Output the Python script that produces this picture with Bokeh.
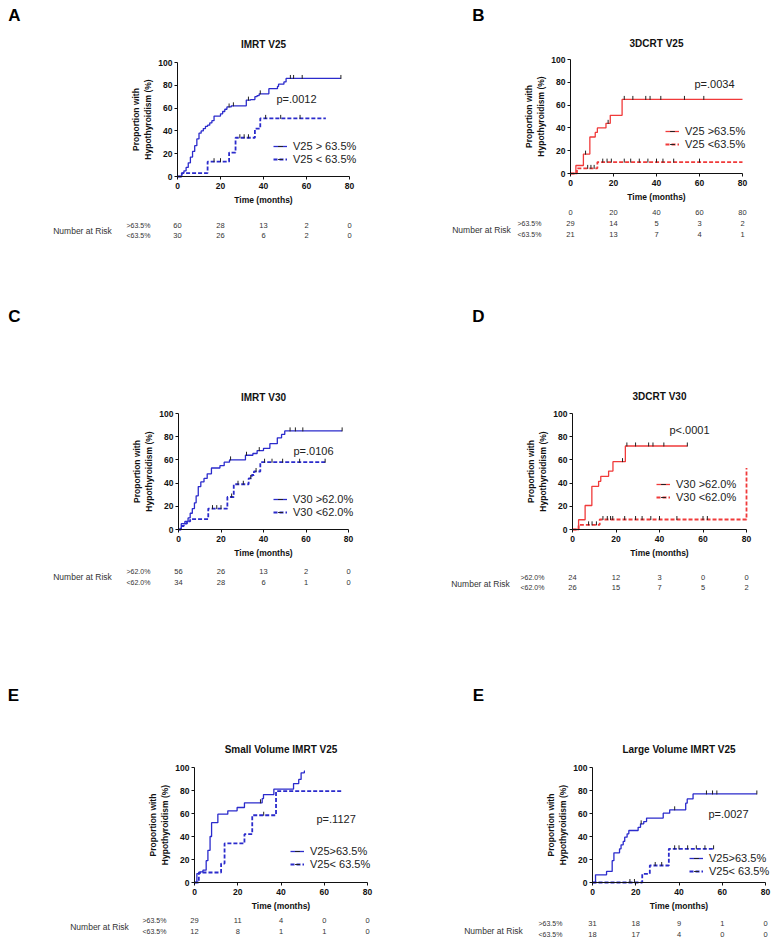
import numpy as np
from bokeh.plotting import figure
from bokeh.models import Range1d, FixedTicker, Label, Legend, LegendItem, LinearAxis
from bokeh.layouts import column, row
from bokeh.embed import file_html
from bokeh.resources import INLINE

FONT = "Liberation Sans"
BLUE = "#2b2bcc"
RED = "#f03a3a"
TXT = "#222222"

x_ticks = [0, 20, 40, 60, 80]
y_ticks = [0, 20, 40, 60, 80, 100]
risk_times = [0, 20, 40, 60, 80]

# ---------------- data ----------------
# A: IMRT V25
A_hi_t = [0, 2, 3, 4, 5, 6, 7, 8, 9, 10, 11, 12, 13, 14, 15, 16, 17, 20, 21, 22, 23, 25,
          32, 34, 36, 37, 38, 42.5, 46.5, 47, 49.5, 50.5]
A_hi_p = [0, 3, 5, 8, 12, 17, 22, 27, 33, 38, 40, 42, 44, 45, 47, 49, 53, 55, 57, 59, 61, 62,
          67, 67.5, 70, 71, 72.5, 77, 79, 81, 83, 86]
A_hi_end = 76
A_hi_cens = [24, 26, 33, 38.5, 52.5, 54, 58, 76]
A_lo_t = [0, 2, 14, 24, 27, 36, 38.5]
A_lo_p = [0, 3, 13, 21, 34, 42, 51]
A_lo_end = 69
A_lo_cens = [17, 20, 29, 31, 33, 41, 48, 57]
A_risk_hi = [60, 28, 13, 2, 0]
A_risk_lo = [30, 26, 6, 2, 0]

# B: 3DCRT V25
B_hi_t = [0, 2.5, 6, 9, 11.5, 12.5, 16.5, 18.5, 24]
B_hi_p = [0, 7, 17, 32, 36, 40, 44, 51, 65]
B_hi_end = 80
B_hi_cens = [7, 17.5, 25, 29, 35, 37, 42, 53, 62]
B_lo_t = [0, 3, 12.5]
B_lo_p = [0, 4.5, 10]
B_lo_end = 80
B_lo_cens = [8, 9.5, 11, 15, 17, 19, 25, 28, 32, 36, 40, 43, 48, 60]
B_risk_hi = [29, 14, 5, 3, 2]
B_risk_lo = [21, 13, 7, 4, 1]

# C: IMRT V30
C_hi_t = [0, 1.3, 3, 4.5, 5.5, 6.5, 7.5, 8.3, 9.3, 10.5, 12, 13.5, 15.5, 19.5, 21.5,
          24, 31.5, 35, 37, 40, 43, 46.5, 48.5, 50]
C_hi_p = [0, 5, 7, 10, 14, 18, 23, 29, 37, 41, 44, 48, 53, 55, 58,
          60, 64, 65.5, 68, 70, 74, 79, 82, 85]
C_hi_end = 77
C_hi_cens = [24.5, 32, 38, 52.5, 55, 58.5, 77]
C_lo_t = [0, 1, 2.5, 4, 5.5, 14, 23, 26, 33, 34.5, 35.5, 38.5]
C_lo_p = [0, 3, 5, 7, 9, 18, 28, 39, 44, 47, 50, 58]
C_lo_end = 69.5
C_lo_cens = [16, 18, 20, 25, 28, 30.5, 34, 36.5, 40.5, 44, 49, 57, 69]
C_risk_hi = [56, 26, 13, 2, 0]
C_risk_lo = [34, 28, 6, 1, 0]

# D: 3DCRT V30
D_hi_t = [0, 2.8, 5.8, 8.9, 12, 13, 16.6, 18.6, 24.3]
D_hi_p = [0, 8.4, 20.7, 37.2, 41.5, 45.8, 50.4, 58.5, 72]
D_hi_end = 52.8
D_hi_cens = [23, 25, 29, 35, 37, 42, 52.8]
D_lo_t = [0, 2.8, 12.5, 80]
D_lo_p = [0, 4, 8.6, 53]
D_lo_end = 80
D_lo_cens = [7.4, 9, 11, 14, 16, 17.5, 18.5, 24, 29, 32, 36, 40, 48, 60, 62]
D_risk_hi = [24, 12, 3, 0, 0]
D_risk_lo = [26, 15, 7, 5, 2]

# E (left): Small Volume IMRT V25
ES_hi_t = [0, 1.1, 2.6, 3.9, 5.4, 6.2, 7.2, 7.9, 10.8, 15.4, 19.7, 23.1, 31.3, 31.9,
           36.7, 45.8, 48.2, 49.3, 50.8]
ES_hi_p = [0, 7.8, 9.3, 10.7, 19, 28, 40, 52, 59.4, 62.3, 65.2, 69.3, 73, 76.5,
           81.2, 86, 89.6, 95.4, 97]
ES_hi_end = 51
ES_hi_cens = [30.5]
ES_lo_t = [0, 2, 12.3, 13.9, 23.1, 26.7, 37.7]
ES_lo_p = [0, 8.7, 16.5, 34, 42, 58.5, 79.4]
ES_lo_end = 68.6
ES_lo_cens = [32]
ES_risk_hi = [29, 11, 4, 0, 0]
ES_risk_lo = [12, 8, 1, 1, 0]

# E (right): Large Volume IMRT V25
EL_hi_t = [0, 1.4, 6.5, 9.1, 9.9, 12.5, 13.2, 14.2, 14.9, 16, 16.8, 21.1, 22.2, 23.7,
           25, 32.7, 35.7, 43.1, 43.8, 46.5]
EL_hi_p = [0, 6.7, 9.6, 19, 25.8, 29.3, 32.8, 35.7, 39.4, 42.3, 45.2, 48, 51, 53,
           56, 60.3, 63.2, 69, 72.7, 77]
EL_hi_end = 76
EL_hi_cens = [22.5, 38, 52.7, 55.5, 57.5, 76]
EL_lo_t = [0, 23, 26.5, 35.3]
EL_lo_p = [0, 7.5, 14.8, 29.3]
EL_lo_end = 56
EL_lo_cens = [17.3, 19.4, 29, 32, 38, 40, 44, 48, 52, 56]
EL_risk_hi = [31, 18, 9, 1, 0]
EL_risk_lo = [18, 17, 4, 0, 0]

# ---------------- panel layout (page pixels, page starts at 0,0) ----------------
panels = [
    dict(letter="A", title="IMRT V25", title_y=44, cell=(0, 0, 390, 270), frame=(177, 349, 62, 176),
         color=BLUE, hi=(A_hi_t, A_hi_p, A_hi_end, A_hi_cens), lo=(A_lo_t, A_lo_p, A_lo_end, A_lo_cens),
         labels=("V25 > 63.5%", "V25 < 63.5%"), pval="p=.0012", pv_xy=(276, 98),
         leg=(273, 165), letter_xy=(14, 15),
         risk=(A_risk_hi, A_risk_lo), risk_lab=(">63.5%", "<63.5%"),
         risk_y=(225, 235), nar_xy=(82, 230), rl_x=126, header_y=None),
    dict(letter="B", title="3DCRT V25", title_y=43, cell=(390, 0, 386, 270), frame=(570, 742, 59, 173),
         color=RED, hi=(B_hi_t, B_hi_p, B_hi_end, B_hi_cens), lo=(B_lo_t, B_lo_p, B_lo_end, B_lo_cens),
         labels=("V25 >63.5%", "V25 <63.5%"), pval="p=.0034", pv_xy=(694, 83),
         leg=(665, 150), letter_xy=(478, 15),
         risk=(B_risk_hi, B_risk_lo), risk_lab=(">63.5%", "<63.5%"),
         risk_y=(223, 234), nar_xy=(481, 229), rl_x=517, header_y=212),
    dict(letter="C", title="IMRT V30", title_y=397, cell=(0, 270, 390, 370), frame=(178, 348, 413, 529),
         color=BLUE, hi=(C_hi_t, C_hi_p, C_hi_end, C_hi_cens), lo=(C_lo_t, C_lo_p, C_lo_end, C_lo_cens),
         labels=("V30 >62.0%", "V30 <62.0%"), pval="p=.0106", pv_xy=(293, 450),
         leg=(273, 518), letter_xy=(14, 316),
         risk=(C_risk_hi, C_risk_lo), risk_lab=(">62.0%", "<62.0%"),
         risk_y=(571, 582), nar_xy=(82, 576), rl_x=126, header_y=None),
    dict(letter="D", title="3DCRT V30", title_y=396, cell=(390, 270, 386, 370), frame=(572, 746, 413, 529),
         color=RED, hi=(D_hi_t, D_hi_p, D_hi_end, D_hi_cens), lo=(D_lo_t, D_lo_p, D_lo_end, D_lo_cens),
         labels=("V30 >62.0%", "V30 <62.0%"), pval="p<.0001", pv_xy=(669, 429),
         leg=(656, 503), letter_xy=(478, 316),
         risk=(D_risk_hi, D_risk_lo), risk_lab=(">62.0%", "<62.0%"),
         risk_y=(577, 587), nar_xy=(480, 583), rl_x=520, header_y=None),
    dict(letter="E", title="Small Volume IMRT V25", title_y=749, cell=(0, 640, 390, 308), frame=(194, 367, 767, 882),
         color=BLUE, hi=(ES_hi_t, ES_hi_p, ES_hi_end, ES_hi_cens), lo=(ES_lo_t, ES_lo_p, ES_lo_end, ES_lo_cens),
         labels=("V25>63.5%", "V25< 63.5%"), pval="p=.1127", pv_xy=(316, 818),
         leg=(290, 870), letter_xy=(13, 695),
         risk=(ES_risk_hi, ES_risk_lo), risk_lab=(">63.5%", "<63.5%"),
         risk_y=(920, 931), nar_xy=(99, 926), rl_x=142, header_y=None),
    dict(letter="E", title="Large Volume IMRT V25", title_y=749, cell=(390, 640, 386, 308), frame=(592, 765, 767, 882),
         color=BLUE, hi=(EL_hi_t, EL_hi_p, EL_hi_end, EL_hi_cens), lo=(EL_lo_t, EL_lo_p, EL_lo_end, EL_lo_cens),
         labels=("V25>63.5%", "V25< 63.5%"), pval="p=.0027", pv_xy=(708, 813),
         leg=(689, 877), letter_xy=(478, 695),
         risk=(EL_risk_hi, EL_risk_lo), risk_lab=(">63.5%", "<63.5%"),
         risk_y=(923, 934), nar_xy=(493, 930), rl_x=538, header_y=None),
]


def step_at(t, p, c):
    t = np.asarray(t, float)
    p = np.asarray(p, float)
    idx = np.searchsorted(t, np.asarray(c, float), side="right") - 1
    idx = np.clip(idx, 0, len(p) - 1)
    return p[idx]


def style_axis(ax):
    ax.axis_line_color = "#111111"
    ax.axis_line_width = 1
    ax.major_tick_line_color = "#111111"
    ax.major_tick_out = 3
    ax.major_tick_in = 0
    ax.minor_tick_line_color = None
    ax.major_label_text_font = FONT
    ax.major_label_text_font_size = "8.5px"
    ax.major_label_text_font_style = "bold"
    ax.major_label_text_color = "#111111"
    ax.axis_label_text_font = FONT
    ax.axis_label_text_font_size = "8.5px"
    ax.axis_label_text_font_style = "bold"
    ax.axis_label_text_color = "#111111"


def make_panel(g):
    cx, cy, w, h = g["cell"]
    fl, fr, ft, fb = g["frame"]
    xs = 80.0 / (fr - fl)
    ys = 100.0 / (fb - ft)
    xr = Range1d(-(fl - cx) * xs, 80 + (cx + w - fr) * xs)
    yr = Range1d(-(cy + h - fb) * ys, 100 + (ft - cy) * ys)
    p = figure(width=w, height=h, x_range=xr, y_range=yr,
               output_backend="svg", toolbar_location=None,
               x_axis_location=None, y_axis_location=None, min_border=0)
    p.outline_line_color = None
    p.grid.visible = False
    p.background_fill_color = "white"
    p.border_fill_color = "white"

    xaxis = LinearAxis(fixed_location=0, bounds=(0, 80), ticker=FixedTicker(ticks=x_ticks),
                       axis_label="Time (months)")
    yaxis = LinearAxis(fixed_location=0, bounds=(0, 100), ticker=FixedTicker(ticks=y_ticks),
                       axis_label="Proportion with\nHypothyroidism (%)")
    style_axis(xaxis)
    style_axis(yaxis)
    xaxis.major_label_standoff = 3
    yaxis.major_label_standoff = 2
    xaxis.axis_label_standoff = 3
    yaxis.axis_label_standoff = 2
    p.add_layout(xaxis, "below")
    p.add_layout(yaxis, "left")

    col = g["color"]
    items = []
    for (t, pr, end, cens), dash, lab in ((g["hi"], "solid", g["labels"][0]),
                                          (g["lo"], "4 2", g["labels"][1])):
        xx = list(t) + [end]
        yy = list(pr) + [pr[-1]]
        lw = 1.3 if dash == "solid" else 1.8
        r = p.step(xx, yy, mode="after", line_color=col, line_width=lw, line_dash=dash)
        cy_ = step_at(t, pr, cens) + 1.3
        s = p.scatter(cens, cy_, marker="dash", angle=np.pi / 2, size=4,
                      line_color="#222222", line_width=1)
        items.append(LegendItem(label=lab, renderers=[r, s]))
    lx, lb = g["leg"]
    leg = Legend(items=items, location=(lx - cx, cy + h - lb), label_text_font=FONT,
                 label_text_font_size="11px", label_text_color=TXT,
                 glyph_width=14, glyph_height=12, label_height=12,
                 label_standoff=6, spacing=1, padding=0, margin=0,
                 background_fill_alpha=0, border_line_alpha=0)
    p.add_layout(leg)

    def to_data(px, py):
        return (px - fl) * xs, (fb - py) * ys

    def lbl(px, py, text, size, style="normal", align="left", color=TXT, xdata=None):
        x, y = to_data(px, py)
        if xdata is not None:
            x = xdata
        p.add_layout(Label(x=x, y=y, text=text, text_font=FONT, text_font_size=size,
                           text_font_style=style, text_align=align, text_baseline="middle",
                           text_color=color))

    lbl((fl + fr) / 2, g["title_y"], g["title"], "10px", "bold", "center", "#111111")
    lbl(g["letter_xy"][0], g["letter_xy"][1], g["letter"], "17px", "bold", "center", "#000000")
    lbl(g["pv_xy"][0], g["pv_xy"][1], g["pval"], "11px")

    lbl(g["nar_xy"][0], g["nar_xy"][1], "Number at Risk", "8.5px", align="center", color="#333333")
    for rl, yy in zip(g["risk_lab"], g["risk_y"]):
        lbl(g["rl_x"], yy, rl, "7px", color="#333333")
    for vals, yy in zip(g["risk"], g["risk_y"]):
        for tt, v in zip(risk_times, vals):
            lbl(0, yy, str(v), "7.5px", align="center", color="#333333", xdata=tt)
    if g["header_y"] is not None:
        for tt in risk_times:
            lbl(0, g["header_y"], str(tt), "7.5px", align="center", color="#333333", xdata=tt)
    return p


figs = [make_panel(g) for g in panels]
layout = column(row(figs[0], figs[1]), row(figs[2], figs[3]), row(figs[4], figs[5]))
open("out.html", "w").write(file_html(layout, INLINE))
